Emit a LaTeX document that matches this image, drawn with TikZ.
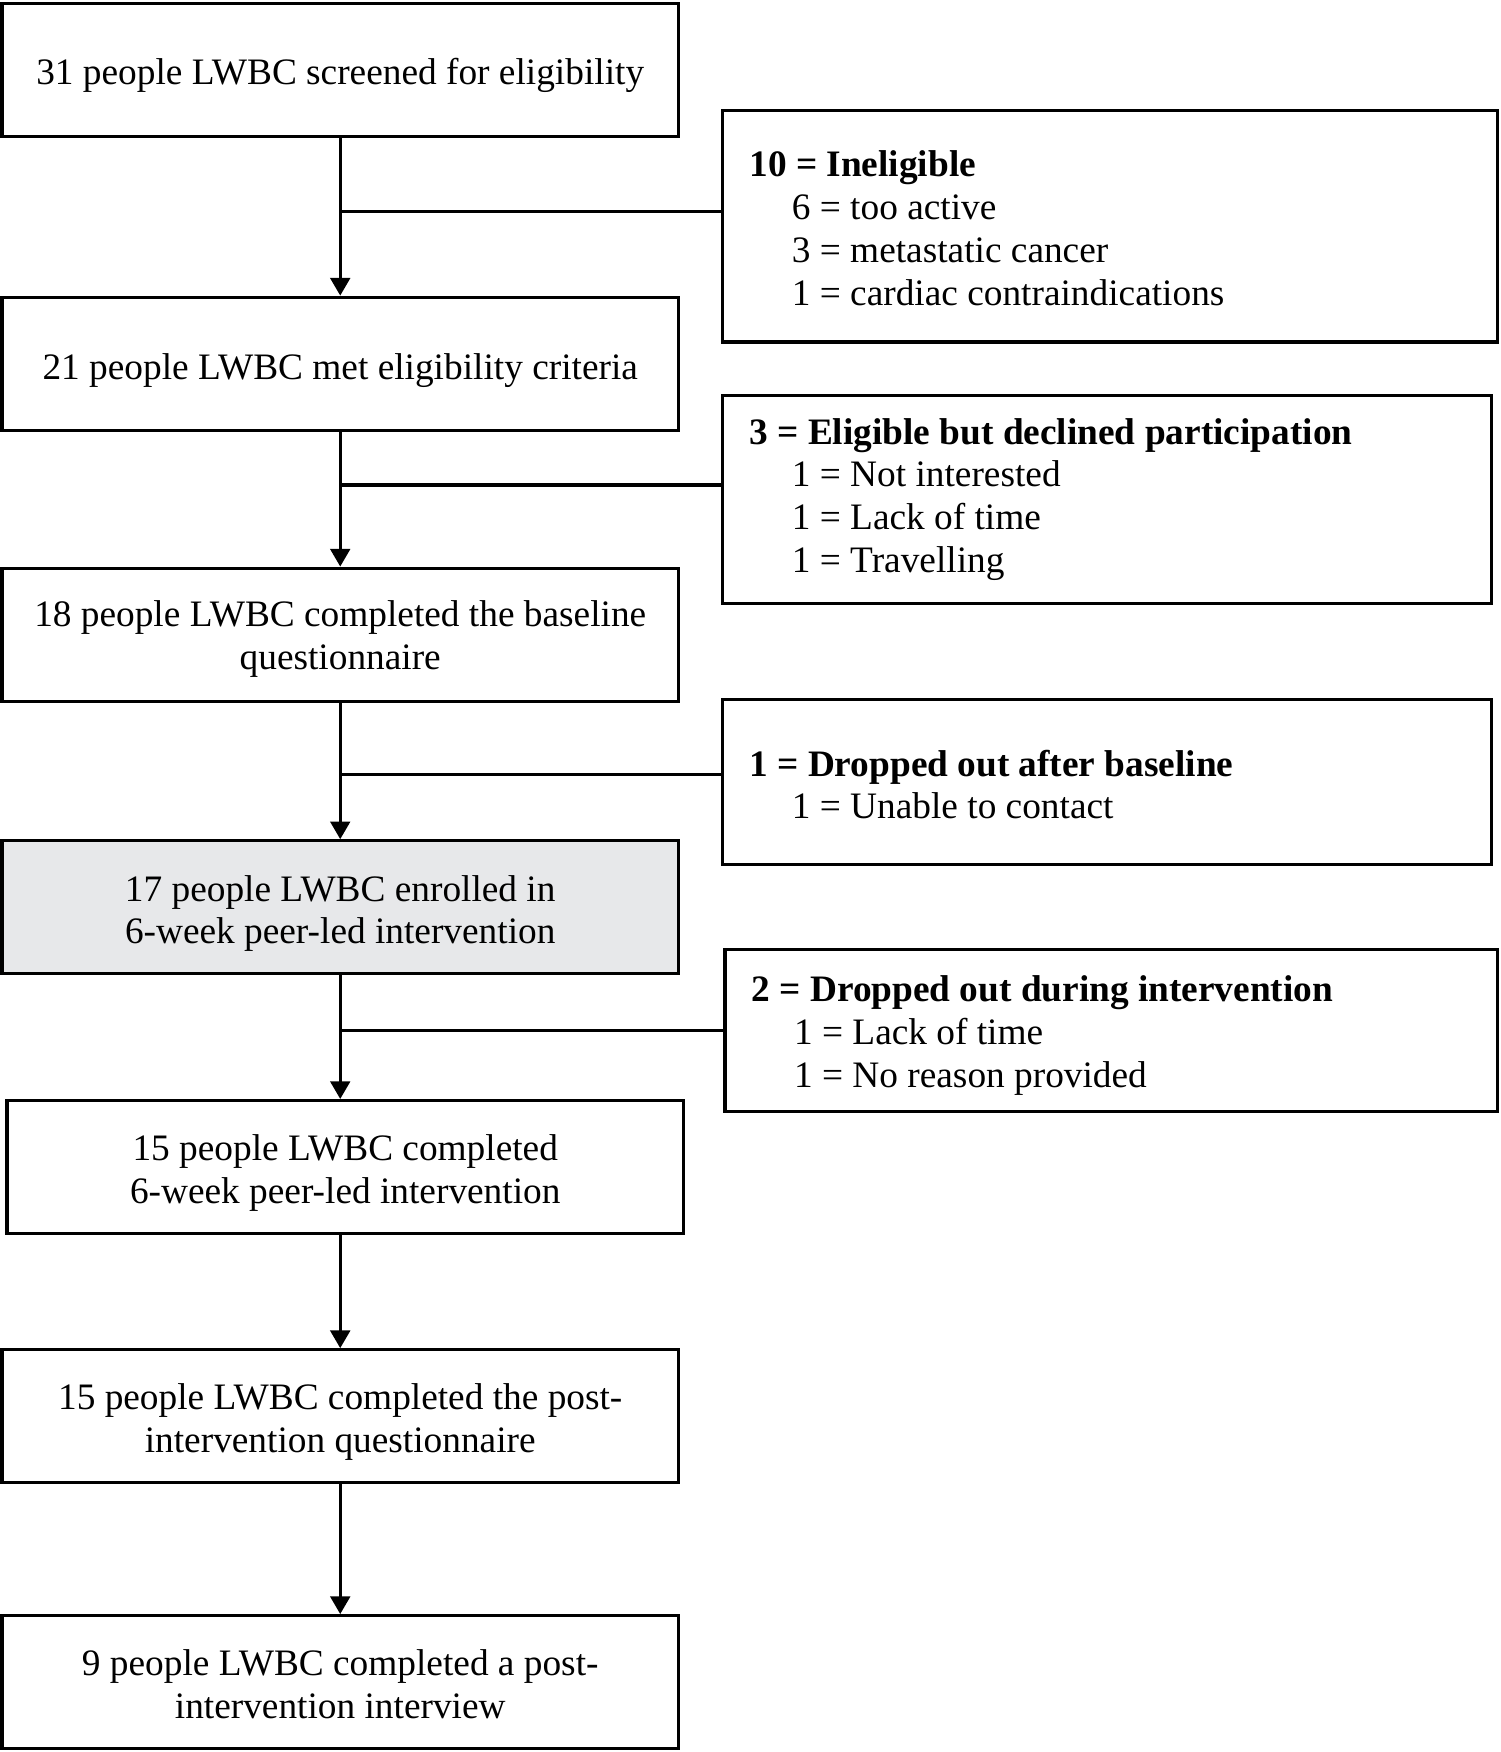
\documentclass[tikz,border=0pt]{standalone}
\usepackage{fontspec}
\setmainfont{Liberation Serif}
\usetikzlibrary{arrows.meta}
\definecolor{boxgray}{HTML}{E7E8EA}
\newcommand{\ctext}[1]{\begin{tabular}[t]{@{}c@{}}#1\end{tabular}}
\newcommand{\ltext}[1]{\begin{tabular}[t]{@{}l@{}}#1\end{tabular}}
\newcommand{\ind}{\hspace*{0.38cm}}
\begin{document}
\begin{tikzpicture}[x=0.01cm,y=-0.01cm,
  every node/.style={font=\fontsize{9.5}{10.9}\selectfont},
  mainbox/.style={draw, line width=0.8pt, minimum width=6.05cm, minimum height=1.19cm, inner sep=0pt},
  sidebox/.style={draw, line width=0.8pt, inner sep=0pt},
  ctxt/.style={anchor=base, inner sep=0pt},
  ltxt/.style={anchor=base west, inner sep=0pt},
  flow/.style={line width=0.8pt, -{Triangle[width=5pt,length=4.5pt]}},
  branch/.style={line width=0.8pt}]
\useasboundingbox (0,0) rectangle (1343,1568);
% main boxes
\node[mainbox] (b1) at (304.5,62.5) {};
\node[mainbox] (b2) at (304.5,325.5) {};
\node[mainbox] (b3) at (304.5,568) {};
\node[mainbox, fill=boxgray] (b4) at (304.5,812) {};
\node[mainbox] (b5) at (309,1044.5) {};
\node[mainbox] (b6) at (304.5,1267.5) {};
\node[mainbox] (b7) at (304.5,1505.5) {};
\node[ctxt] (b1t) at (304.5,76) {\ctext{31 people LWBC screened for eligibility}};
\node[ctxt] (b2t) at (304.5,339.5) {\ctext{21 people LWBC met eligibility criteria}};
\node[ctxt] (b3t) at (304.5,561) {\ctext{18 people LWBC completed the baseline\\questionnaire}};
\node[ctxt] (b4t) at (304.5,806.5) {\ctext{17 people LWBC enrolled in\\6-week peer-led intervention}};
\node[ctxt] (b5t) at (309,1038.5) {\ctext{15 people LWBC completed\\6-week peer-led intervention}};
\node[ctxt] (b6t) at (304.5,1261.5) {\ctext{15 people LWBC completed the post-\\intervention questionnaire}};
\node[ctxt] (b7t) at (304.5,1499.5) {\ctext{9 people LWBC completed a post-\\intervention interview}};
% side boxes
\node[sidebox, minimum width=6.93cm, minimum height=2.07cm] (s1) at (993.5,202.5) {};
\node[sidebox, minimum width=6.88cm, minimum height=1.86cm] (s2) at (991,447) {};
\node[sidebox, minimum width=6.88cm, minimum height=1.48cm] (s3) at (991,700) {};
\node[sidebox, minimum width=6.91cm, minimum height=1.45cm] (s4) at (994.5,922.5) {};
\node[ltxt] (s1t) at (670,158.2) {\ltext{\textbf{10 = Ineligible}\\\ind 6 = too active\\\ind 3 = metastatic cancer\\\ind 1 = cardiac contraindications}};
\node[ltxt] (s2t) at (670,397.5) {\ltext{\textbf{3 = Eligible but declined participation}\\\ind 1 = Not interested\\\ind 1 = Lack of time\\\ind 1 = Travelling}};
\node[ltxt] (s3t) at (670,694.5) {\ltext{\textbf{1 = Dropped out after baseline}\\\ind 1 = Unable to contact}};
\node[ltxt] (s4t) at (672,896.5) {\ltext{\textbf{2 = Dropped out during intervention}\\\ind 1 = Lack of time\\\ind 1 = No reason provided}};
% flow arrows
\draw[flow] (b1.south) -- (b2.north);
\draw[flow] (b2.south) -- (b3.north);
\draw[flow] (b3.south) -- (b4.north);
\draw[flow] (b4.south) -- (b4.south |- b5.north);
\draw[flow] (b6.north |- b5.south) -- (b6.north);
\draw[flow] (b6.south) -- (b7.north);
% branches
\coordinate (j1) at (304.5,189);
\coordinate (j2) at (304.5,434);
\coordinate (j3) at (304.5,693);
\coordinate (j4) at (304.5,922);
\draw[branch] (j1) -- (j1 -| s1.west);
\draw[branch] (j2) -- (j2 -| s2.west);
\draw[branch] (j3) -- (j3 -| s3.west);
\draw[branch] (j4) -- (j4 -| s4.west);
\end{tikzpicture}
\end{document}
